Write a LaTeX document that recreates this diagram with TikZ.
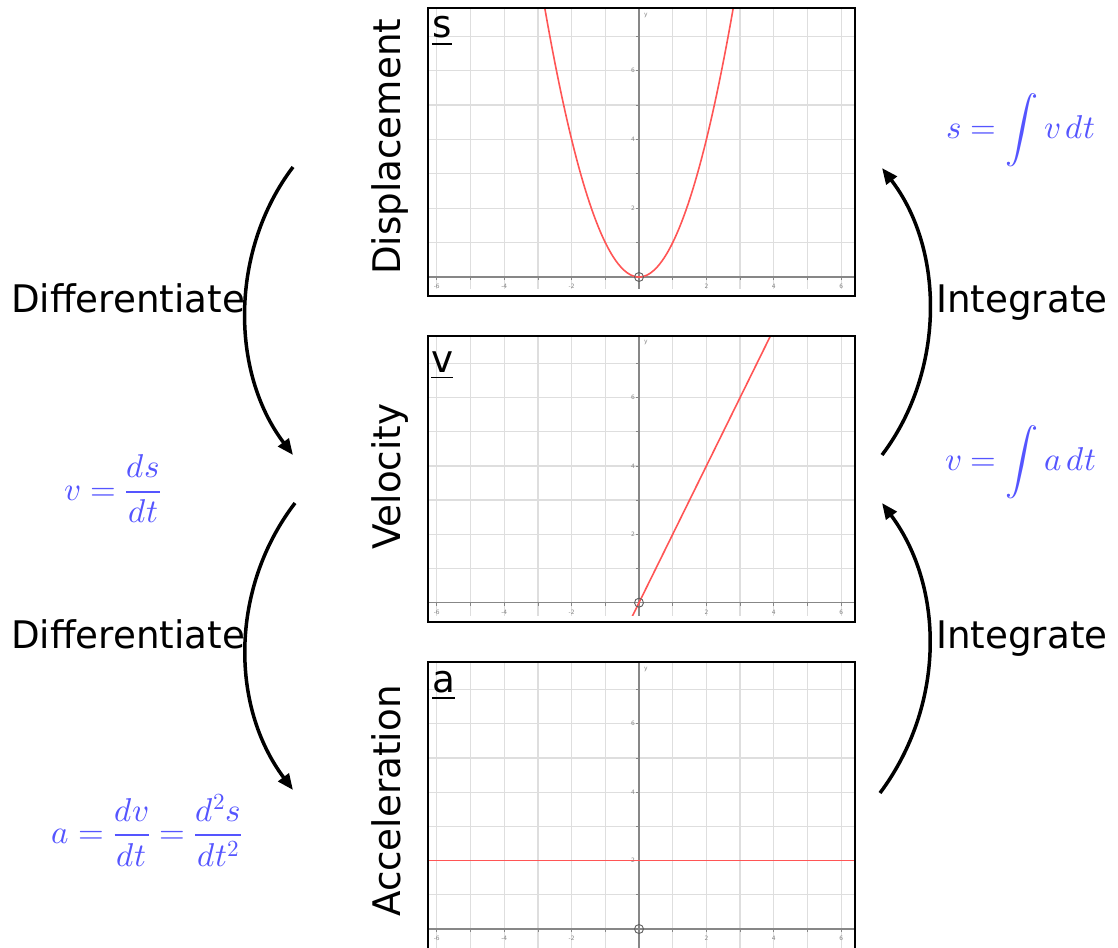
\documentclass[tikz,border=0pt]{standalone}
\usepackage{fontspec}
\usepackage{unicode-math}
\setmainfont{DejaVu Sans}[FakeStretch=0.98]
\setmathfont{Latin Modern Math}
\usetikzlibrary{arrows.meta}
\definecolor{formblue}{RGB}{85,85,255}
\definecolor{gridgray}{RGB}{222,222,222}
\definecolor{axisgray}{RGB}{135,135,135}
\definecolor{curvered}{RGB}{255,85,85}
\tikzset{
  lbl/.style={inner sep=0pt, font=\fontsize{38}{40}\selectfont},
  form/.style={inner sep=0pt, text=formblue, font=\fontsize{33}{38}\selectfont},
  frame/.style={line width=2.5pt, draw=black},
  gridline/.style={draw=gridgray, line width=1.3pt},
  axisline/.style={draw=axisgray, line width=1.3pt},
  ticklbl/.style={inner sep=0pt, text=axisgray, font=\fontsize{6}{6}\selectfont},
  curve/.style={draw=curvered, line width=1.6pt},
  flow/.style={line width=3.5pt, -{Triangle[length=16pt,width=13pt]}}
}
\newcommand{\axesgrid}{%
  \draw[gridline, step=1] (-7,-1) grid (7,8);
  \draw[axisline] (-7,0) -- (7,0);
  \draw[axisline] (0,-1) -- (0,8);
  \foreach \k in {-6,...,6} {\draw[axisline, line width=0.8pt] (\k,0) -- ++(0,-3pt);}
  \foreach \k in {1,...,7} {\draw[axisline, line width=0.8pt] (0,\k) -- ++(-3pt,0);}
  \foreach \k in {-6,-4,-2} {\node[ticklbl] at (\k,-0.27) {\k};}
  \foreach \k in {2,4,6} {\node[ticklbl] at (\k,-0.27) {\k};}
  \foreach \k in {2,4,6} {\node[ticklbl, anchor=east] at (-0.12,\k) {\k};}
  \node[ticklbl] at (0.2,7.6) {y};
}
\begin{document}
\begin{tikzpicture}[x=1pt,y=-1pt]
\clip (0,0) rectangle (1118,947);
\fill[white] (0,0) rectangle (1118,947);

% graph 1: displacement
\begin{scope}[shift={(639,277)}, x=33.7pt, y=34.4pt]
  \begin{scope}
    \clip (-6.26,-0.32) rectangle (6.4,7.82);
    \axesgrid
    \draw[curve] plot[domain=-2.9:2.9, samples=90] (\x,{\x*\x});
    \draw[axisgray!70!black, line width=0.9pt] (0,0) circle (4.5pt);
  \end{scope}
\end{scope}
\draw[frame] (428,8) rectangle (855,296);

% graph 2: velocity
\begin{scope}[shift={(639,602.7)}, x=33.7pt, y=34.2pt]
  \begin{scope}
    \clip (-6.26,-0.36) rectangle (6.4,7.8);
    \axesgrid
    \draw[curve] (-0.3,-0.6) -- (4.2,8.4);
    \draw[axisgray!70!black, line width=0.9pt] (0,0) circle (4.5pt);
  \end{scope}
\end{scope}
\draw[frame] (428,336) rectangle (855,622);

% graph 3: acceleration
\begin{scope}[shift={(639,929)}, x=33.7pt, y=34.2pt]
  \begin{scope}
    \clip (-6.26,-0.6) rectangle (6.4,7.8);
    \axesgrid
    \draw[curve] (-7,2) -- (7,2);
    \draw[axisgray!70!black, line width=0.9pt] (0,0) circle (4.5pt);
  \end{scope}
\end{scope}
\draw[frame] (428,662) rectangle (855,960);

% panel letters
\node[lbl, anchor=base west] (sl) at (432,38) {\underline{s}};
\node[lbl, anchor=base west] (vl) at (431,372) {\underline{v}};
\node[lbl, anchor=base west] (al) at (432,692) {\underline{a}};

% rotated labels
\node[lbl, rotate=90, anchor=base west] (disp) at (400,275) {Displacement};
\node[lbl, rotate=90, anchor=base west] (velo) at (400,550) {Velocity};
\node[lbl, rotate=90, anchor=base west] (accel) at (400,917) {Acceleration};

% side labels
\node[lbl, anchor=base west] (diff1) at (11,312) {Differentiate};
\node[lbl, anchor=base west] (diff2) at (11,648) {Differentiate};
\node[lbl, anchor=base west] (int1) at (936,312) {Integrate};
\node[lbl, anchor=base west] (int2) at (936,648) {Integrate};

% formulas
\node[form] (f1) at (113,489) {$v=\dfrac{ds}{dt}$};
\node[form] (f2) at (147,830) {$a=\dfrac{dv}{dt}=\dfrac{d^2s}{dt^2}$};
\node[form] (f3) at (1021,130) {$s=\displaystyle\int v\,dt$};
\node[form] (f4) at (1021,462) {$v=\displaystyle\int a\,dt$};

% arrow end points
\coordinate (d1s) at (293,167);
\coordinate (d1e) at (293,455);
\coordinate (d2s) at (295,503);
\coordinate (d2e) at (293,790);
\coordinate (i1s) at (882,455);
\coordinate (i1e) at (882,168);
\coordinate (i2s) at (880,793);
\coordinate (i2e) at (882,503);

\draw[flow] (d1s) .. controls (230,250) and (230,372) .. (d1e);
\draw[flow] (d2s) .. controls (230,588) and (230,706) .. (d2e);
\draw[flow] (i1s) .. controls (945,372) and (945,250) .. (i1e);
\draw[flow] (i2s) .. controls (945,706) and (945,588) .. (i2e);
\end{tikzpicture}
\end{document}
